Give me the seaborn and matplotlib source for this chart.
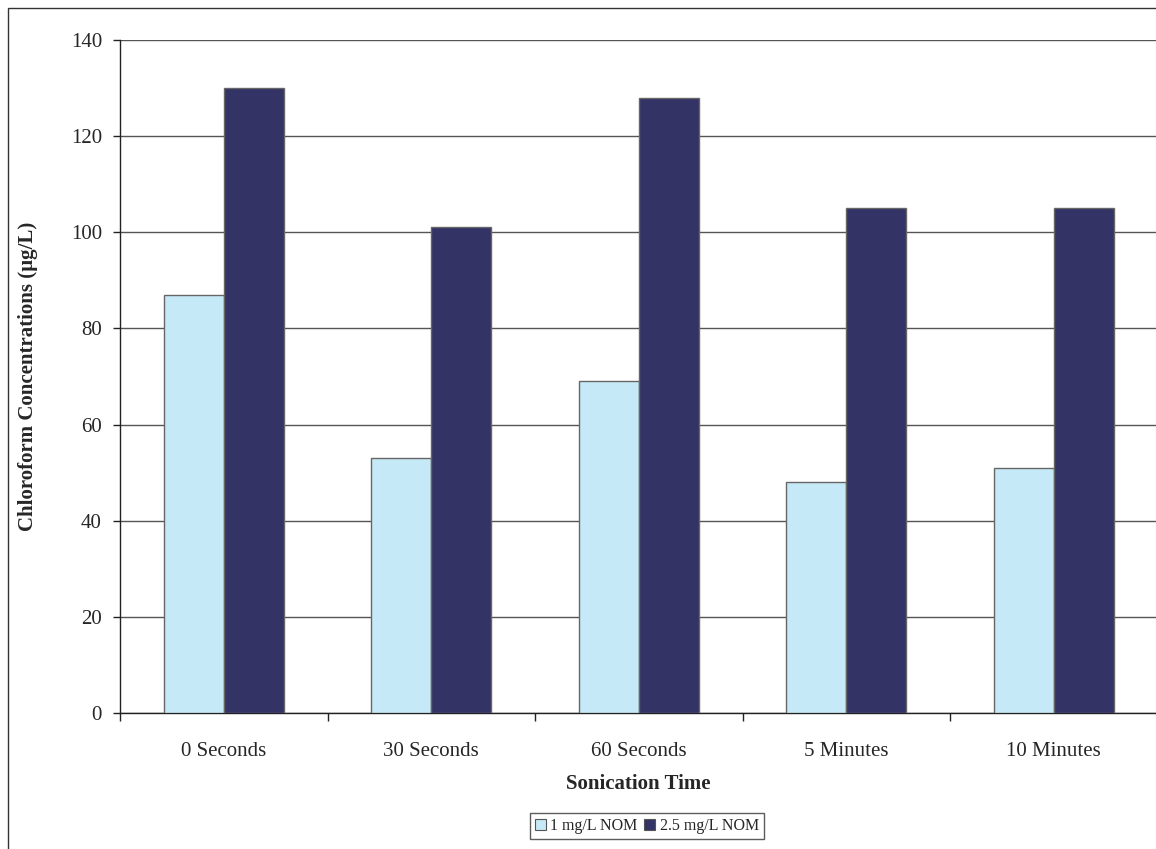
import pandas as pd
import numpy as np
import matplotlib
matplotlib.use('Agg')
import matplotlib.pyplot as plt
import matplotlib.patches as mpatches
import seaborn as sns

# Data
times = ['0 Seconds', '30 Seconds', '60 Seconds', '5 Minutes', '10 Minutes']
nom_1 = [87, 53, 69, 48, 51]
nom_25 = [130, 101, 128, 105, 105]
series_names = ['1 mg/L NOM', '2.5 mg/L NOM']
y_ticks = [0, 20, 40, 60, 80, 100, 120, 140]

df = pd.DataFrame({'Sonication Time': times,
                   series_names[0]: nom_1,
                   series_names[1]: nom_25})
long_df = df.melt(id_vars='Sonication Time', var_name='Series',
                  value_name='Concentration')

sns.set_style("white")
plt.rcParams['font.family'] = ['Liberation Serif', 'DejaVu Serif']
plt.rcParams['mathtext.fontset'] = 'stix'

fig = plt.figure(figsize=(11.56, 8.49), dpi=100)
ax = fig.add_axes([120 / 1156, 1 - 713 / 849, 1037.5 / 1156, 673 / 849])

palette = {series_names[0]: '#C6E9F7', series_names[1]: '#333366'}
sns.barplot(data=long_df, x='Sonication Time', y='Concentration', hue='Series',
            palette=palette, width=0.58, edgecolor='#666666', linewidth=1,
            saturation=1, ax=ax, zorder=3)

# Gridlines and axes styling (Excel look)
ax.set_ylim(0, 140)
ax.set_yticks(y_ticks)
ax.set_xlim(-0.5, len(times) - 0.5)
ax.yaxis.grid(True, color='#555555', linewidth=1)
ax.set_axisbelow(True)
for side in ['top', 'right']:
    ax.spines[side].set_visible(False)
for side in ['left', 'bottom']:
    ax.spines[side].set_color('#222222')
    ax.spines[side].set_linewidth(1)

ax.tick_params(axis='y', which='major', direction='out', length=5, width=1,
               color='#222222', labelsize=15, pad=8, left=True)
ax.tick_params(axis='x', which='major', length=0, labelsize=15, pad=21)
ax.set_xticks(np.arange(len(times) + 1) - 0.5, minor=True)
ax.tick_params(axis='x', which='minor', direction='out', length=6, width=1,
               color='#222222', bottom=True)

ax.set_xlabel('Sonication Time', fontsize=15, fontweight='bold', labelpad=9)
ax.set_ylabel('Chloroform Concentrations (µg/L)', fontsize=15, fontweight='bold')
ax.yaxis.set_label_coords((38 - 120) / 1037.5, 0.5)

# Legend boxed under the x label
handles = [mpatches.Patch(facecolor=palette[s], edgecolor='#555555', linewidth=0.8)
           for s in series_names]
ax.get_legend().remove()
fig.legend(handles, series_names, loc='center', bbox_to_anchor=(647 / 1156, 1 - 826 / 849),
           ncol=2, fontsize=11.5, frameon=True, fancybox=False, edgecolor='#333333',
           handlelength=0.7, handleheight=0.7, handletextpad=0.3, columnspacing=0.4,
           borderpad=0.3, borderaxespad=0)
fig.legends[0].get_frame().set_linewidth(1)

# Outer chart border (cut off on the right and bottom)
fig.patches.append(mpatches.Rectangle((8 / 1156, -0.05), 1.2, 1 - 8 / 849 + 0.05,
                                      transform=fig.transFigure, fill=False,
                                      edgecolor='#333333', linewidth=1))

plt.savefig('out.png', dpi=100)
plt.close()
